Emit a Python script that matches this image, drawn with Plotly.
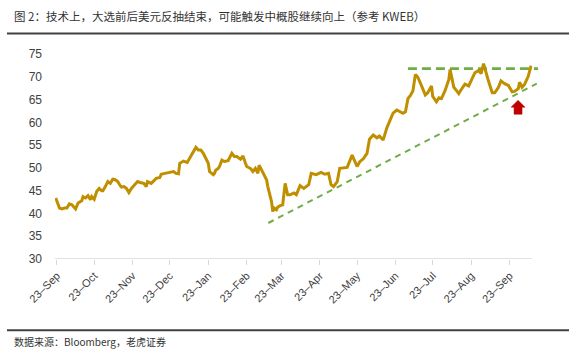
import pandas as pd
import plotly.graph_objects as go

# ---- data ----
base_date = "2022-09-23"
# day offsets from base_date for each traced point
day_offsets = [-1, 0, 2, 4, 6, 8, 10, 12, 14, 15, 17, 20, 21, 23, 25, 27, 28, 30, 32, 34,
               36, 37, 39, 41, 43, 45, 47, 49, 51, 52, 54, 56, 58, 60, 63, 65, 67, 70, 72, 73,
               76, 78, 80, 83, 84, 87, 90, 93, 94, 96, 98, 99, 102, 105, 107, 110, 112, 114, 116, 118,
               120, 122, 123, 126, 127, 128, 130, 131, 133, 135, 138, 141, 143, 145, 148, 150, 152, 153, 156, 158,
               160, 162, 163, 165, 166, 168, 169, 170, 172, 173, 174, 175, 177, 178, 180, 182, 184, 186, 188, 191,
               193, 196, 199, 203, 205, 209, 213, 216, 219, 221, 223, 226, 228, 234, 238, 240, 242, 244, 247, 250,
               252, 255, 258, 260, 263, 266, 269, 271, 274, 277, 279, 281, 283, 285, 287, 289, 291, 294, 297, 299,
               302, 303, 306, 308, 310, 313, 316, 317, 320, 322, 324, 326, 329, 332, 334, 337, 340, 342, 344, 346,
               348, 351, 353, 356, 358, 361, 364, 367, 369, 372, 373, 375, 377, 380, 382, 383]
kweb = [43.4, 42.6, 41.2, 41.0, 41.2, 41.2, 42.1, 41.9, 41.4, 41.0, 42.3, 42.8, 43.7, 43.4, 43.9, 43.0, 43.7, 43.1, 44.8, 45.5,
        45.0, 45.0, 45.9, 47.0, 46.6, 47.5, 47.4, 47.0, 46.1, 45.8, 45.9, 45.5, 44.6, 45.5, 46.4, 47.0, 46.8, 46.6, 45.9, 47.0,
        46.6, 47.1, 47.7, 47.9, 48.6, 48.8, 49.0, 49.3, 49.2, 48.8, 48.7, 51.0, 51.5, 51.2, 52.1, 53.5, 54.5, 53.9, 53.9, 53.2,
        52.1, 51.0, 49.2, 48.5, 48.8, 49.5, 49.9, 50.3, 51.7, 51.4, 51.6, 53.2, 52.5, 52.5, 51.9, 52.6, 51.0, 50.3, 49.9, 49.2,
        49.9, 48.8, 50.6, 49.5, 48.8, 47.7, 47.4, 45.9, 43.7, 42.6, 40.4, 41.2, 40.8, 41.4, 41.7, 41.9, 46.6, 44.1, 44.1, 44.5,
        44.1, 46.1, 45.5, 46.3, 48.8, 48.5, 49.0, 48.6, 48.8, 46.3, 45.9, 47.0, 49.9, 50.1, 52.8, 51.7, 50.3, 51.3, 52.0, 53.2,
        56.3, 57.2, 56.6, 57.0, 56.1, 58.8, 61.0, 62.0, 62.7, 62.3, 62.0, 62.3, 65.2, 65.9, 66.9, 70.5, 69.9, 68.0, 66.0, 66.5,
        68.0, 65.7, 64.5, 65.4, 65.2, 67.0, 69.4, 71.6, 67.7, 67.0, 66.3, 67.2, 68.4, 68.0, 69.2, 70.9, 71.4, 70.7, 72.9, 70.6,
        69.0, 66.5, 66.5, 67.7, 69.1, 68.5, 68.1, 66.7, 66.8, 67.4, 68.8, 67.7, 68.3, 70.1, 72.1, 72.0]

# resistance (horizontal) and support (rising) trend lines
resist_days = [283, 388]
resist_vals = [71.8, 71.8]
support_days = [170.4, 386.9]
support_vals = [37.9, 68.5]

# signal arrow
arrow_day = 371.8
arrow_val = 64.85

tick_days = [0, 30, 61, 91, 122, 153, 181, 212, 242, 273, 303, 334, 365]
tick_text = ["23–Sep", "23–Oct", "23–Nov", "23–Dec", "23–Jan", "23–Feb", "23–Mar",
             "23–Apr", "23–May", "23–Jun", "23–Jul", "23–Aug", "23–Sep"]
y_ticks = [30, 35, 40, 45, 50, 55, 60, 65, 70, 75]

title_text = "图 2：技术上，大选前后美元反抽结束，可能触发中概股继续向上（参考 KWEB）"
source_text = "数据来源：Bloomberg，老虎证券"

# ---- build ----
b = pd.Timestamp(base_date)
to_dates = lambda d: list(b + pd.to_timedelta(d, unit="D"))
dates = to_dates(day_offsets)
x_range = to_dates([-1.6, 389.5])

FONT = "Liberation Sans, Arial, Noto Sans CJK SC, sans-serif"

fig = go.Figure()
fig.add_trace(go.Scatter(x=to_dates(support_days), y=support_vals, mode="lines",
                         line=dict(color="#70AD47", width=2, dash="6px,5px"),
                         hoverinfo="skip", showlegend=False))
fig.add_trace(go.Scatter(x=to_dates(resist_days), y=resist_vals, mode="lines",
                         line=dict(color="#70AD47", width=2.6, dash="9px,5px"),
                         hoverinfo="skip", showlegend=False))
fig.add_trace(go.Scatter(x=dates, y=kweb, mode="lines",
                         line=dict(color="#BF8F00", width=3),
                         showlegend=False))

# bottom axis line up to the last data point
fig.add_shape(type="line", xref="x", yref="y", x0=x_range[0], x1=dates[-1], y0=30, y1=30,
              line=dict(color="#D9D9D9", width=1.5), layer="below")

# red up-arrow (pixel sized, anchored at data point)
fig.add_shape(type="path", xref="x", yref="y", xsizemode="pixel", ysizemode="pixel",
              xanchor=to_dates([arrow_day])[0], yanchor=arrow_val,
              path="M0,0 L7,-7 L4,-7 L4,-14 L-4,-14 L-4,-7 L-7,-7 Z",
              fillcolor="#C00000", line=dict(color="#C00000", width=0.5))

# header / footer rules
for yy in [1.0995, -0.347]:
    fig.add_shape(type="line", xref="paper", yref="paper", x0=-0.099, x1=1.0598,
                  y0=yy, y1=yy, line=dict(color="#404040", width=2))

fig.add_annotation(text=title_text, xref="paper", yref="paper", x=-0.089, y=1.187,
                   xanchor="left", yanchor="middle", showarrow=False,
                   font=dict(family="Noto Sans CJK SC, sans-serif", size=11.5, color="#333333"))
fig.add_annotation(text=source_text, xref="paper", yref="paper", x=-0.089, y=-0.4005,
                   xanchor="left", yanchor="middle", showarrow=False,
                   font=dict(family="Noto Sans CJK SC, sans-serif", size=10, color="#333333"))

fig.update_layout(
    width=576, height=354,
    margin=dict(l=55, r=36, t=53.5, b=94.5),
    paper_bgcolor="white", plot_bgcolor="white",
    font=dict(family=FONT, color="#404040"),
    xaxis=dict(type="date", range=x_range, showgrid=False, zeroline=False, showline=False,
               tickmode="array", tickvals=to_dates(tick_days), ticktext=tick_text,
               tickangle=-45, ticks="outside", ticklen=5, tickcolor="#D9D9D9",
               tickfont=dict(size=11, color="#404040")),
    yaxis=dict(range=[30, 75], showgrid=False, zeroline=False, showline=False,
               tickmode="array", tickvals=y_ticks, ticks="", ticklabelstandoff=12,
               tickfont=dict(size=12, color="#404040")),
)

fig.write_html("out.html")
